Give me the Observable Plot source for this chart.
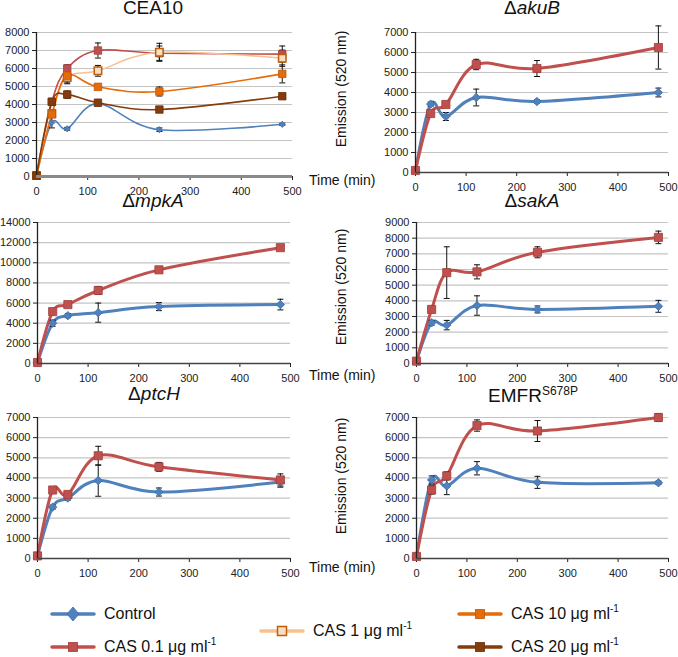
<!DOCTYPE html>
<html><head><meta charset="utf-8">
<script src="https://cdn.jsdelivr.net/npm/d3@7"></script>
<script src="https://cdn.jsdelivr.net/npm/@observablehq/plot@0.6"></script>
<style>
body{margin:0;background:#fff;font-family:"Liberation Sans",Arial,sans-serif;}
#root{position:relative;width:678px;height:657px;overflow:hidden;background:#fff;}
.abs{position:absolute;}
.title{font-size:19px;line-height:16px;text-align:center;width:220px;white-space:nowrap;color:#111;}
.title sup{font-size:12px;vertical-align:7px;line-height:0;}
.tlab{font-size:14px;line-height:16px;white-space:nowrap;color:#111;}
.ylab{font-size:14px;line-height:16px;white-space:nowrap;color:#111;transform-origin:center center;}
.leg{font-size:16px;line-height:18px;white-space:nowrap;color:#111;display:flex;align-items:center;}
.leg sup{font-size:10px;vertical-align:7px;line-height:0;}
</style></head><body><div id="root"></div>
<script>
// ---------------- data ----------------
const times = [0, 30, 60, 120, 240, 480];
const xTicks = [0, 100, 200, 300, 400, 500];

// CEA10
const cea10Control = [50, 3000, 2650, 4050, 2600, 2900];
const cea10ControlErr = [0, 300, 80, 120, 100, 60];
const cea10Cas01 = [50, 4150, 6000, 7000, 6850, 6800];
const cea10Cas01Err = [0, 150, 200, 420, 400, 450];
const cea10Cas1 = [50, 3500, 5500, 5870, 6900, 6570];
const cea10Cas1Err = [0, 200, 300, 300, 500, 450];
const cea10Cas10 = [50, 3450, 5600, 4980, 4720, 5700];
const cea10Cas10Err = [0, 150, 450, 150, 250, 500];
const cea10Cas20 = [50, 4150, 4550, 4100, 3720, 4460];
const cea10Cas20Err = [0, 150, 200, 120, 150, 100];

// ΔakuB
const akuBControl = [100, 3420, 2800, 3750, 3550, 4000];
const akuBControlErr = [0, 100, 200, 420, 80, 220];
const akuBCas01 = [100, 2950, 3400, 5400, 5200, 6250];
const akuBCas01Err = [0, 150, 100, 260, 400, 1080];

// ΔmpkA
const mpkAControl = [100, 4000, 4750, 5050, 5650, 5850];
const mpkAControlErr = [0, 300, 200, 950, 400, 530];
const mpkACas01 = [100, 5150, 5850, 7250, 9300, 11500];
const mpkACas01Err = [0, 150, 150, 400, 150, 150];

// ΔsakA
const sakAControl = [150, 2600, 2450, 3700, 3450, 3650];
const sakAControlErr = [0, 150, 300, 620, 220, 380];
const sakACas01 = [150, 3450, 5800, 5850, 7100, 8050];
const sakACas01Err = [0, 200, 1650, 450, 350, 400];

// ΔptcH
const ptcHControl = [130, 2550, 3000, 3870, 3300, 3800];
const ptcHControlErr = [0, 100, 100, 780, 200, 260];
const ptcHCas01 = [130, 3400, 3180, 5100, 4550, 3900];
const ptcHCas01Err = [0, 100, 100, 470, 220, 300];

// EMFR S678P
const emfrControl = [100, 3900, 3600, 4480, 3780, 3760];
const emfrControlErr = [0, 200, 430, 330, 300, 80];
const emfrCas01 = [100, 3400, 4100, 6600, 6330, 7000];
const emfrCas01Err = [0, 200, 200, 280, 520, 200];

// series styles
const seriesStyle = {
  "Control": {line: "#4F81BD", fill: "#4F81BD", stroke: "#3F6FA8", symbol: "diamond2"},
  "CAS 0.1": {line: "#C0504D", fill: "#C0504D", stroke: "#A03D3A", symbol: "square"},
  "CAS 1":   {line: "#FAC08F", fill: "#FCDDC0", stroke: "#B8600F", symbol: "square"},
  "CAS 10":  {line: "#E46C0A", fill: "#E46C0A", stroke: "#C0580A", symbol: "square"},
  "CAS 20":  {line: "#843C0C", fill: "#843C0C", stroke: "#6A2F08", symbol: "square"}
};

const panels = [
  {key: "cea10", left: 0, top: 0, W: 300, H: 200, mL: 36, mR: 8, mT: 32, mB: 24, yMax: 8000, yStep: 1000, thin: true,
   series: [["Control", cea10Control, cea10ControlErr], ["CAS 0.1", cea10Cas01, cea10Cas01Err], ["CAS 1", cea10Cas1, cea10Cas1Err], ["CAS 10", cea10Cas10, cea10Cas10Err], ["CAS 20", cea10Cas20, cea10Cas20Err]]},
  {key: "akuB", left: 330, top: 0, W: 348, H: 200, mL: 85, mR: 10, mT: 32, mB: 28, yMax: 7000, yStep: 1000,
   series: [["Control", akuBControl, akuBControlErr], ["CAS 0.1", akuBCas01, akuBCas01Err]]},
  {key: "mpkA", left: 0, top: 200, W: 300, H: 190, mL: 37, mR: 10, mT: 22, mB: 27, yMax: 14000, yStep: 2000,
   series: [["Control", mpkAControl, mpkAControlErr], ["CAS 0.1", mpkACas01, mpkACas01Err]]},
  {key: "sakA", left: 330, top: 200, W: 348, H: 190, mL: 86, mR: 10, mT: 22, mB: 27, yMax: 9000, yStep: 1000,
   series: [["Control", sakAControl, sakAControlErr], ["CAS 0.1", sakACas01, sakACas01Err]]},
  {key: "ptcH", left: 0, top: 400, W: 300, H: 185, mL: 37, mR: 10, mT: 17, mB: 27, yMax: 7000, yStep: 1000,
   series: [["Control", ptcHControl, ptcHControlErr], ["CAS 0.1", ptcHCas01, ptcHCas01Err]]},
  {key: "emfr", left: 330, top: 400, W: 348, H: 185, mL: 86, mR: 10, mT: 17, mB: 27, yMax: 7000, yStep: 1000,
   series: [["Control", emfrControl, emfrControlErr], ["CAS 0.1", emfrCas01, emfrCas01Err]]}
];

const titles = [
  {html: "CEA10", cx: 153, top: 0},
  {html: "Δ<i>akuB</i>", cx: 532, top: 0},
  {html: "Δ<i>mpkA</i>", cx: 153, top: 193},
  {html: "Δ<i>sakA</i>", cx: 532, top: 193},
  {html: "Δ<i>ptcH</i>", cx: 154, top: 386},
  {html: "EMFR<sup>S678P</sup>", cx: 533, top: 388}
];

// ---------------- drawing ----------------
const root = document.getElementById("root");
const capSymbol = {draw(ctx, size) { const r = Math.sqrt(size / Math.PI); ctx.moveTo(-r, 0); ctx.lineTo(r, 0); }};

for (const p of panels) {
  const rows = [];
  for (const [name, vals, errs] of p.series) {
    times.forEach((t, i) => rows.push({series: name, t, v: vals[i], e: errs[i]}));
  }
  const errRows = rows.filter(d => d.e > 0);
  const marks = [
    Plot.ruleY(d3.range(p.yStep, p.yMax + 1, p.yStep), {stroke: "#c4c4c4", strokeWidth: 1.2}),
  ];
  for (const [name] of p.series) {
    const st = seriesStyle[name];
    marks.push(Plot.line(rows.filter(d => d.series === name), {
      x: "t", y: "v", stroke: st.line, strokeWidth: p.thin ? 1.6 : 3,
      curve: "cardinal", tension: 0
    }));
  }
  marks.push(Plot.ruleX(errRows, {x: "t", y1: d => d.v - d.e, y2: d => d.v + d.e, stroke: "#111", strokeWidth: 1}));
  marks.push(Plot.dot(errRows, {x: "t", y: d => d.v - d.e, symbol: capSymbol, r: 3, stroke: "#111", strokeWidth: 1, fill: "none"}));
  marks.push(Plot.dot(errRows, {x: "t", y: d => d.v + d.e, symbol: capSymbol, r: 3, stroke: "#111", strokeWidth: 1, fill: "none"}));
  for (const [name] of p.series) {
    const st = seriesStyle[name];
    const isD = st.symbol === "diamond2";
    marks.push(Plot.dot(rows.filter(d => d.series === name), {
      x: "t", y: "v", symbol: st.symbol, fill: st.fill, stroke: st.stroke,
      strokeWidth: name === "CAS 1" ? 1.5 : 0.8,
      r: isD ? (p.thin ? 2.8 : 3.8) : (p.thin ? 4.2 : 4.6)
    }));
  }
  marks.push(Plot.ruleX([0], {stroke: "#222", strokeWidth: 1.3}));
  marks.push(Plot.ruleY([0], p.thin ? {stroke: "#8a8a8a", strokeWidth: 3} : {stroke: "#444", strokeWidth: 1.3}));

  const chart = Plot.plot({
    width: p.W, height: p.H,
    marginLeft: p.mL, marginRight: p.mR, marginTop: p.mT, marginBottom: p.mB,
    x: {domain: [0, 500], ticks: xTicks, tickSize: 4, tickPadding: 7, label: null, tickFormat: d => String(d)},
    y: {domain: [0, p.yMax], ticks: d3.range(0, p.yMax + 1, p.yStep), tickSize: 4, tickPadding: 3, label: null, tickFormat: d => String(d)},
    style: {fontSize: "11px", fontFamily: "'Liberation Sans', Arial, sans-serif", color: "#222", background: "transparent", overflow: "visible"},
    marks
  });
  const wrap = document.createElement("div");
  wrap.className = "abs";
  wrap.style.left = p.left + "px";
  wrap.style.top = p.top + "px";
  wrap.appendChild(chart);
  root.appendChild(wrap);
}

for (const t of titles) {
  const d = document.createElement("div");
  d.className = "abs title";
  d.style.left = (t.cx - 110) + "px";
  d.style.top = t.top + "px";
  d.innerHTML = t.html;
  root.appendChild(d);
}

// axis labels
for (const cy of [180, 375, 567]) {
  const d = document.createElement("div");
  d.className = "abs tlab";
  d.style.left = "309px";
  d.style.top = (cy - 8) + "px";
  d.textContent = "Time (min)";
  root.appendChild(d);
}
for (const cy of [89, 287, 476]) {
  const d = document.createElement("div");
  d.className = "abs ylab";
  d.style.width = "140px";
  d.style.textAlign = "center";
  d.style.left = (341 - 70) + "px";
  d.style.top = (cy - 8) + "px";
  d.style.transform = "rotate(-90deg)";
  d.textContent = "Emission (520 nm)";
  root.appendChild(d);
}

// legend
const legendItems = [
  {name: "Control", html: "Control", x: 52, cy: 614},
  {name: "CAS 0.1", html: "CAS 0.1 μg ml<sup>-1</sup>", x: 52, cy: 647},
  {name: "CAS 1", html: "CAS 1 μg ml<sup>-1</sup>", x: 261, cy: 631},
  {name: "CAS 10", html: "CAS 10 μg ml<sup>-1</sup>", x: 459, cy: 614},
  {name: "CAS 20", html: "CAS 20 μg ml<sup>-1</sup>", x: 459, cy: 647}
];
for (const it of legendItems) {
  const st = seriesStyle[it.name];
  const d = document.createElement("div");
  d.className = "abs leg";
  d.style.left = it.x + "px";
  d.style.top = (it.cy - 9) + "px";
  const sym = st.symbol === "diamond2"
    ? `<path d="M21,2 L27,9 L21,16 L15,9 Z" fill="${st.fill}" stroke="${st.stroke}" stroke-width="0.8"/>`
    : `<rect x="16.5" y="4.5" width="9" height="9" fill="${st.fill}" stroke="${st.stroke}" stroke-width="${it.name === "CAS 1" ? 1.5 : 0.8}"/>`;
  d.innerHTML = `<svg width="42" height="18" style="margin-right:10px;overflow:visible"><line x1="0" x2="42" y1="9" y2="9" stroke="${st.line}" stroke-width="3.5" stroke-linecap="round"/>${sym}</svg><span>${it.html}</span>`;
  root.appendChild(d);
}
</script></body></html>
